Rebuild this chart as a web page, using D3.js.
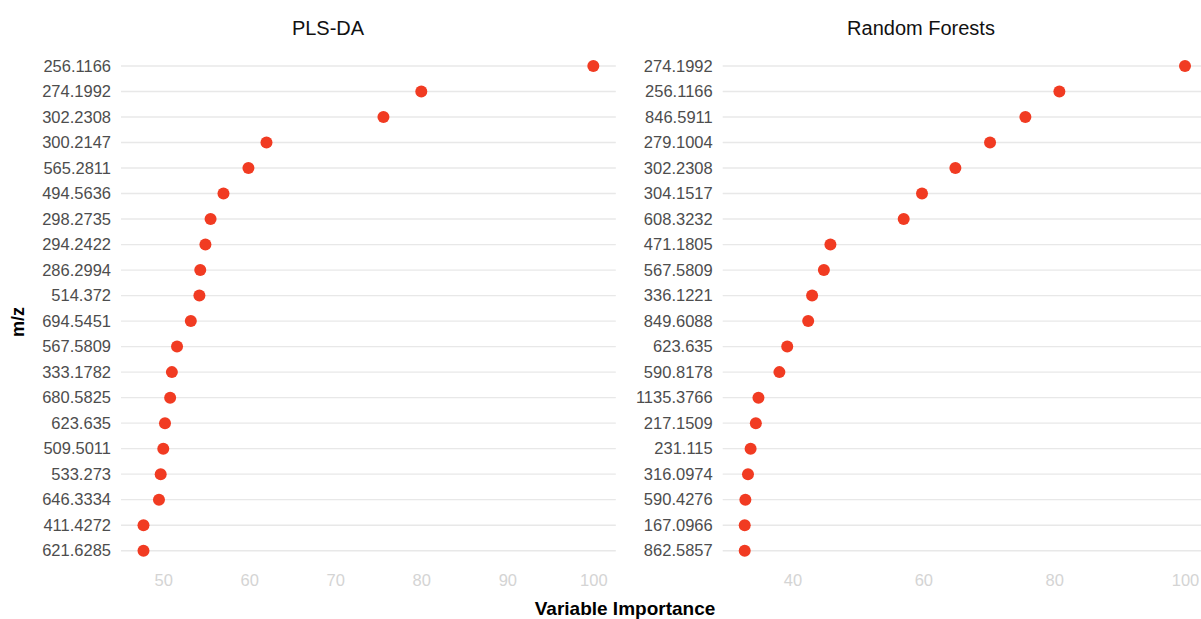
<!DOCTYPE html>
<html>
<head>
<meta charset="utf-8">
<script src="https://cdn.jsdelivr.net/npm/d3@7"></script>
<style>
  html, body { margin: 0; padding: 0; background: #fff; }
  svg { display: block; font-family: "Liberation Sans", Arial, sans-serif; }
</style>
</head>
<body>
<svg id="chart" width="1201" height="619"></svg>
<script>
// PLS-DA variable importance (top 20 features, ordered by importance)
const plsLabels = ["256.1166", "274.1992", "302.2308", "300.2147", "565.2811",
  "494.5636", "298.2735", "294.2422", "286.2994", "514.372",
  "694.5451", "567.5809", "333.1782", "680.5825", "623.635",
  "509.5011", "533.273", "646.3334", "411.4272", "621.6285"];
const plsValues = [100, 80.0, 75.6, 62.0, 59.9,
  57.0, 55.5, 54.9, 54.3, 54.2,
  53.2, 51.6, 51.0, 50.8, 50.2,
  50.0, 49.7, 49.5, 47.7, 47.7];

// Random Forests variable importance (top 20 features)
const rfLabels = ["274.1992", "256.1166", "846.5911", "279.1004", "302.2308",
  "304.1517", "608.3232", "471.1805", "567.5809", "336.1221",
  "849.6088", "623.635", "590.8178", "1135.3766", "217.1509",
  "231.115", "316.0974", "590.4276", "167.0966", "862.5857"];
const rfValues = [100, 80.8, 75.6, 70.2, 64.9,
  59.8, 57.0, 45.8, 44.8, 43.0,
  42.4, 39.2, 38.0, 34.8, 34.4,
  33.6, 33.2, 32.8, 32.7, 32.7];

const plsTicks = [50, 60, 70, 80, 90, 100];
const rfTicks = [40, 60, 80, 100];

const svg = d3.select("#chart");
const panelTop = 50.7, panelBottom = 566;
const dotColor = "#f13b22";

function expandDomain(vals) {
  const lo = d3.min(vals), hi = d3.max(vals);
  const pad = (hi - lo) * 0.05;
  return [lo - pad, hi + pad];
}

function panel(labels, values, ticks, x0, x1, title, titleX) {
  const g = svg.append("g");
  const x = d3.scaleLinear().domain(expandDomain(values)).range([x0, x1]);
  const y = d3.scalePoint().domain(labels).range([panelTop, panelBottom]).padding(0.6);

  // horizontal grid lines, one per feature
  g.append("g").selectAll("line").data(labels).join("line")
    .attr("x1", x0).attr("x2", x1)
    .attr("y1", d => y(d)).attr("y2", d => y(d))
    .attr("stroke", "#e8e8e8").attr("stroke-width", 1.4);

  // feature labels
  const ya = g.append("g").attr("transform", `translate(${x0},0)`)
    .call(d3.axisLeft(y).tickSize(0).tickPadding(10));
  ya.select(".domain").remove();
  ya.selectAll("text").attr("fill", "#4d4d4d").style("font-size", "16.5px");

  // importance axis
  const xa = g.append("g").attr("transform", `translate(0,${panelBottom})`)
    .call(d3.axisBottom(x).tickValues(ticks).tickFormat(d3.format("d")).tickSize(0).tickPadding(8));
  xa.select(".domain").remove();
  xa.selectAll("text").attr("fill", "#d4d4d4").style("font-size", "16.5px");

  // points
  g.append("g").selectAll("circle").data(labels.map((l, i) => ({ l, v: values[i] })))
    .join("circle")
    .attr("cx", d => x(d.v)).attr("cy", d => y(d.l))
    .attr("r", 6).attr("fill", dotColor);

  svg.append("text").attr("x", titleX).attr("y", 35)
    .attr("text-anchor", "middle").attr("fill", "#111")
    .style("font-size", "20px").text(title);
}

panel(plsLabels, plsValues, plsTicks, 121, 615.8, "PLS-DA", 328);
panel(rfLabels, rfValues, rfTicks, 722.7, 1207, "Random Forests", 921);

svg.append("text").attr("x", 625).attr("y", 615)
  .attr("text-anchor", "middle").attr("fill", "#000")
  .style("font-size", "19px").style("font-weight", "bold")
  .text("Variable Importance");

svg.append("text")
  .attr("transform", "translate(24,322) rotate(-90)")
  .attr("text-anchor", "middle").attr("fill", "#000")
  .style("font-size", "18px").style("font-weight", "bold")
  .text("m/z");
</script>
</body>
</html>
